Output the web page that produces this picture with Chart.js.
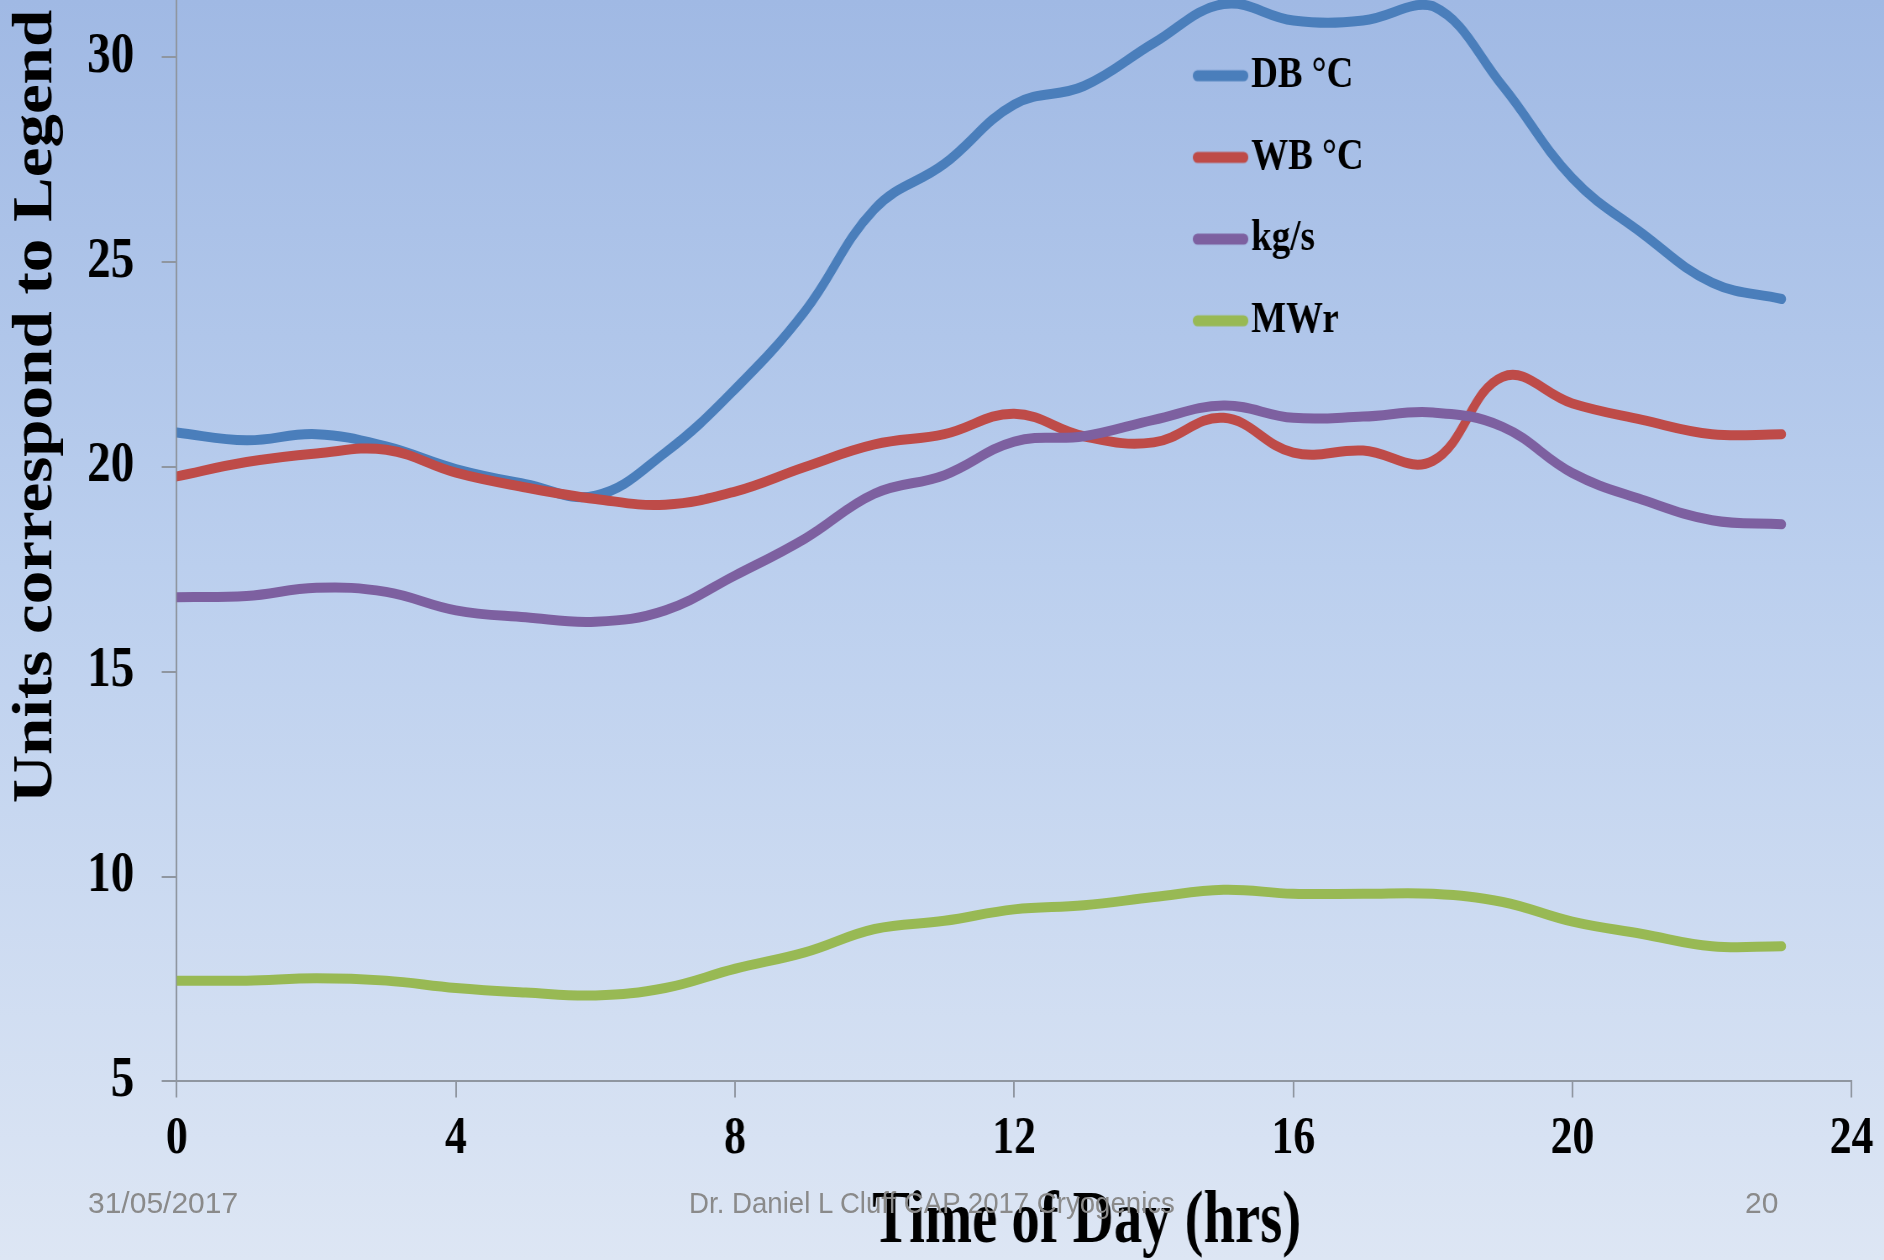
<!DOCTYPE html>
<html>
<head>
<meta charset="utf-8">
<title>Time of Day profile</title>
<script src="https://cdn.jsdelivr.net/npm/chart.js@4.4.1/dist/chart.umd.min.js"></script>
<style>
  html, body { margin: 0; padding: 0; overflow: hidden; }
  body {
    width: 1884px; height: 1260px; position: relative;
    background: linear-gradient(180deg, #A0B9E4 0%, #BBCFEE 45%, #DDE6F4 100%);
  }
  /* the pasted chart is horizontally condensed on the slide */
  #plot { position: absolute; left: 0; top: 0; width: 2243px; height: 1260px;
          transform: scaleX(0.84); transform-origin: 0 0; }
  .foot { position: absolute; font-family: "Liberation Sans", Arial, sans-serif;
          font-size: 30px; line-height: 30px; color: #8a8a8a; white-space: nowrap; }
</style>
</head>
<body>
<div id="plot"><canvas id="chart" width="2243" height="1260"></canvas></div>
<div class="foot" style="left:88px; top:1188px;">31/05/2017</div>
<div class="foot" style="left:932px; top:1188px; transform: translateX(-50%) scaleX(0.92);">Dr. Daniel L Cluff CAP 2017 Cryogenics</div>
<div class="foot" style="left:1745px; top:1188px;">20</div>
<script>
// Hourly readings over one day
const hours = [0,1,2,3,4,5,6,7,8,9,10,11,12,13,14,15,16,17,18,19,20,21,22,23];
const dbTemp = [20.84,20.65,20.8,20.5,19.95,19.58,19.3,20.35,21.9,23.8,26.3,27.4,28.85,29.3,30.35,31.3,30.9,30.9,31.25,29.3,27.05,25.7,24.5,24.1];
const wbTemp = [19.77,20.12,20.33,20.42,19.86,19.5,19.22,19.08,19.4,20.0,20.55,20.8,21.3,20.75,20.6,21.2,20.35,20.4,20.15,22.2,21.55,21.15,20.8,20.8];
const massFlow = [16.82,16.85,17.05,16.95,16.5,16.33,16.22,16.5,17.35,18.25,19.35,19.8,20.62,20.75,21.15,21.5,21.2,21.23,21.33,20.98,19.85,19.2,18.7,18.6];
const mwr = [7.46,7.46,7.52,7.46,7.28,7.17,7.1,7.28,7.75,8.15,8.72,8.92,9.2,9.3,9.5,9.68,9.58,9.58,9.58,9.38,8.9,8.6,8.3,8.3];

const seriesNames = ['DB \u00B0C', 'WB \u00B0C', 'kg/s', 'MWr'];
const seriesColors = ['#4A7EBB', '#BE4B48', '#7D60A0', '#98B954'];
const xTicks = [0, 4, 8, 12, 16, 20, 24];
const yTicks = [5, 10, 15, 20, 25, 30];
const xTitle = 'Time of Day (hrs)';
const yTitle = 'Units correspond to Legend';

const SQ = 0.84;              // horizontal condensing of the chart graphic
const serif = '"Liberation Serif", "Times New Roman", serif';
const axisGray = '#8f96a0';

const toPoints = vals => hours.map((h, i) => ({ x: h, y: vals[i] }));

// thick rounded legend swatch
function swatch(color) {
  const c = document.createElement('canvas');
  c.width = 66; c.height = 14;
  const g = c.getContext('2d');
  g.strokeStyle = color; g.lineWidth = 11; g.lineCap = 'round';
  g.beginPath(); g.moveTo(5.5, 7); g.lineTo(60.5, 7); g.stroke();
  return c;
}

const allSeries = [dbTemp, wbTemp, massFlow, mwr];
const datasets = allSeries.map((vals, i) => ({
  label: seriesNames[i],
  data: toPoints(vals),
  borderColor: seriesColors[i],
  backgroundColor: seriesColors[i],
  borderWidth: 10,
  borderCapStyle: 'round',
  borderJoinStyle: 'round',
  pointRadius: 0,
  pointHoverRadius: 0,
  tension: 0.4,
  fill: false,
  order: allSeries.length - i,
  pointStyle: swatch(seriesColors[i])
}));

const decorations = {
  id: 'decorations',
  afterLayout(chart) {
    // legend sits inside the plot, to the right of centre
    const lg = chart.legend, a = chart.chartArea;
    if (!lg) return;
    const pad = lg.options.labels.padding;
    const w = lg.right - lg.left, h = lg.bottom - lg.top;
    lg.left = a.left + a.width * 0.616 - pad; lg.right = lg.left + w;
    lg.top = a.top + 16; lg.bottom = lg.top + h;
  },
  afterDraw(chart) {
    const ctx = chart.ctx, a = chart.chartArea;
    ctx.save();
    ctx.fillStyle = '#000';
    // vertical axis title
    ctx.font = 'bold 67px ' + serif;
    ctx.textAlign = 'center';
    ctx.textBaseline = 'middle';
    ctx.translate(a.left - 166.7, a.top + a.height * 0.376);
    ctx.rotate(-Math.PI / 2);
    ctx.fillText(yTitle, 0, 0);
    ctx.restore();
    // horizontal axis title
    ctx.save();
    ctx.fillStyle = '#000';
    ctx.font = 'bold 73px ' + serif;
    ctx.textAlign = 'center';
    ctx.textBaseline = 'alphabetic';
    ctx.translate(a.left + a.width * 0.5433, a.bottom + 160.3);
    ctx.scale(0.925, 1);
    ctx.fillText(xTitle, 0, 0);
    ctx.restore();
  }
};

new Chart(document.getElementById('chart'), {
  type: 'line',
  data: { datasets },
  options: {
    responsive: false,
    maintainAspectRatio: false,
    animation: false,
    devicePixelRatio: 1,
    layout: { padding: { left: 0, top: 0, right: 38.7, bottom: 0 } },
    plugins: {
      tooltip: { enabled: false },
      legend: {
        position: 'chartArea',
        align: 'start',
        labels: {
          usePointStyle: true,
          pointStyleWidth: 28.8,
          padding: 37.7,
          color: '#000',
          font: { family: serif, size: 44, weight: 'bold' },
          sort: (a, b) => a.datasetIndex - b.datasetIndex
        }
      }
    },
    scales: {
      x: {
        type: 'linear',
        min: xTicks[0],
        max: xTicks[xTicks.length - 1],
        afterBuildTicks: s => { s.ticks = xTicks.map(v => ({ value: v })); },
        afterFit: s => { s.height = 178.6; s.paddingLeft = 0; s.paddingRight = 0; },
        border: { display: true, color: axisGray, width: 2 },
        grid: { drawOnChartArea: false, drawTicks: true, tickLength: 16, color: axisGray, lineWidth: 2 },
        ticks: { color: '#000', padding: 10.6, maxRotation: 0, autoSkip: false,
                 font: { family: serif, size: 52, weight: 'bold' } }
      },
      y: {
        type: 'linear',
        min: yTicks[0],
        max: 31.4,
        afterBuildTicks: s => { s.ticks = yTicks.map(v => ({ value: v })); },
        afterFit: s => { s.width = 210.4; s.paddingTop = 0; s.paddingBottom = 0; },
        border: { display: true, color: axisGray, width: 2 },
        grid: { drawOnChartArea: false, drawTicks: true, tickLength: 17.9, color: axisGray, lineWidth: 2 },
        ticks: { color: '#000', padding: 32.7, autoSkip: false,
                 font: { family: serif, size: 56, weight: 'bold' } }
      }
    }
  },
  plugins: [decorations]
});
</script>
</body>
</html>
